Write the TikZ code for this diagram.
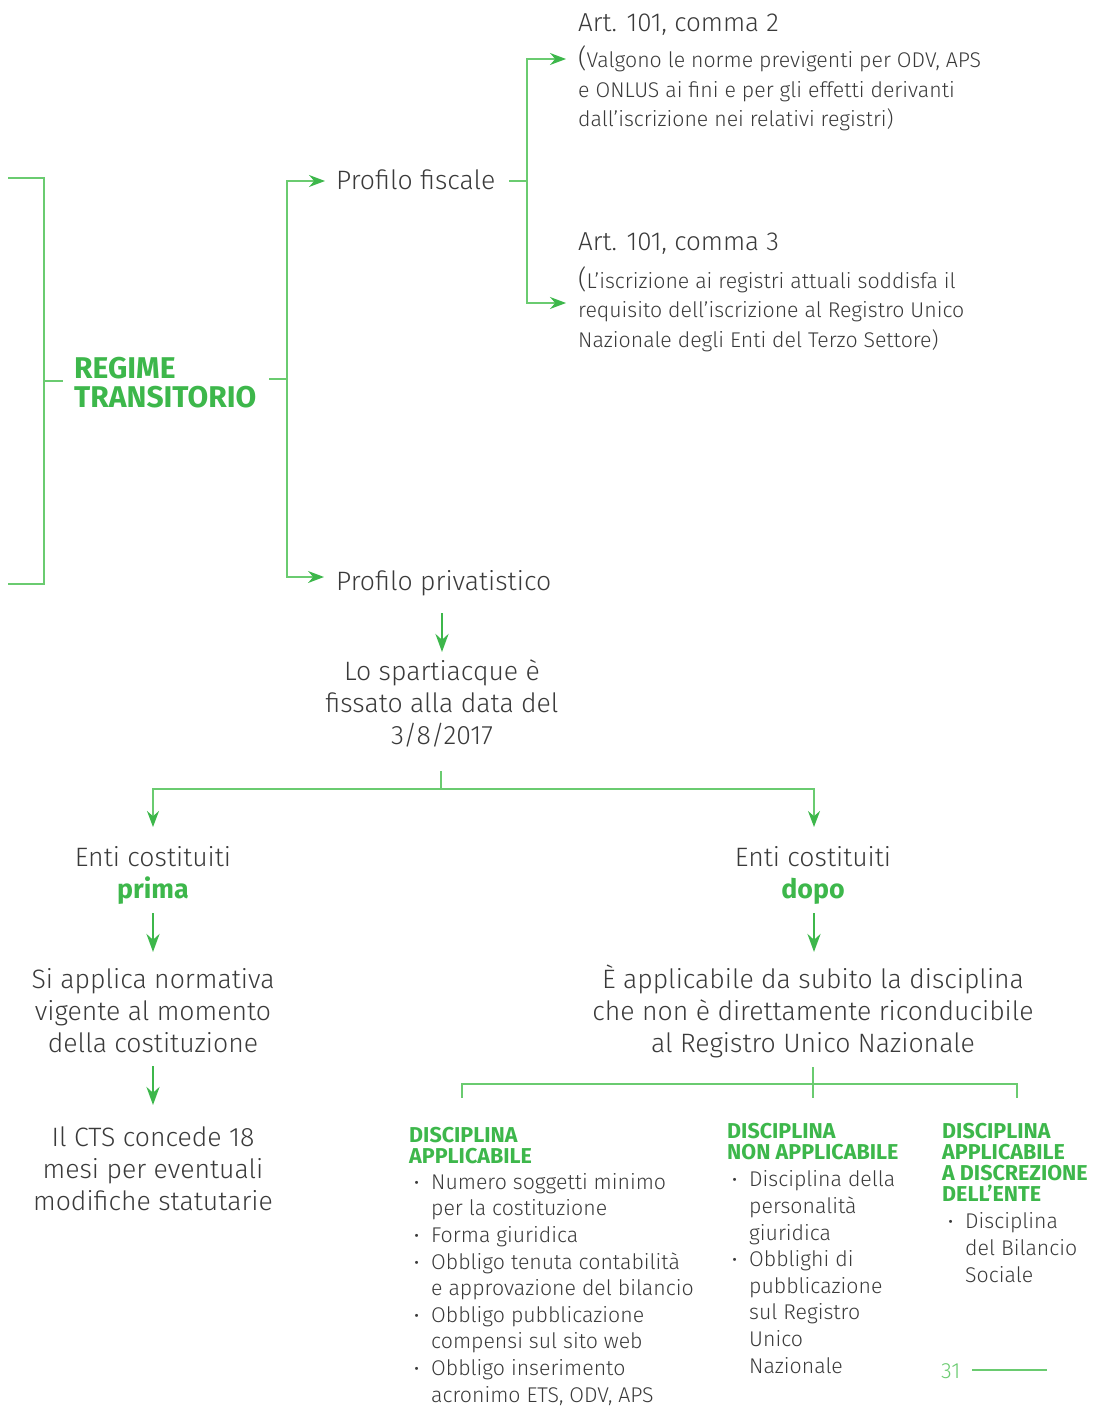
\documentclass[tikz,border=0pt]{standalone}
\usepackage{fontspec}
\setmainfont{Fira Sans Light}[BoldFont={Fira Sans Bold}]
\newfontfamily\regolare{Fira Sans}
\usetikzlibrary{arrows.meta}

\definecolor{verde}{HTML}{3DB74B}
\definecolor{verdel}{HTML}{6ACB70}
\definecolor{grigio}{HTML}{3A3A3A}

\newcommand{\punto}{\makebox[17pt][l]{{\regolare ·}}}
\newcommand{\rientro}{\makebox[17pt]{}}

\begin{document}
\begin{tikzpicture}[x=1pt,y=-1pt]
\useasboundingbox (0,0) rectangle (1100,1415);

\tikzstyle{linea}=[draw=verdel,line width=1.6pt]
\tikzstyle{frecciah}=[draw=verdel,line width=1.6pt,-{Stealth[length=16pt,width=12pt,color=verde]}]
\tikzstyle{frecciav}=[draw=verde,line width=2.8pt,-{Stealth[length=18pt,width=13pt]}]
\tikzstyle{testo}=[inner sep=0pt,text=grigio,font=\fontsize{26.6}{32}\selectfont,align=center]
\tikzstyle{titolo}=[inner sep=0pt,text=grigio,font=\fontsize{26}{29}\selectfont,align=left]
\tikzstyle{nota}=[inner sep=0pt,text=grigio,font=\fontsize{21.3}{29.5}\selectfont,align=left]
\tikzstyle{capo}=[inner sep=0pt,text=verde,font=\bfseries\fontsize{21.5}{20.7}\selectfont,align=left]
\tikzstyle{lista}=[inner sep=0pt,text=grigio,font=\fontsize{21.3}{26.6}\selectfont,align=left]

% testi (base = ultima riga)
\node[inner sep=0pt,text=verde,font=\bfseries\fontsize{30}{29}\selectfont,align=left,anchor=base west] (regime) at (74,407) {REGIME\\TRANSITORIO};
\node[testo,anchor=base west] (fiscale) at (336,190) {Profilo fiscale};
\node[testo,anchor=base west] (privato) at (336,590) {Profilo privatistico};
\node[titolo,anchor=base west] (art2) at (578,32) {Art. 101, comma 2};
\node[nota,anchor=base west] (nota2) at (578,127) {{\fontsize{26}{26}\selectfont(}Valgono le norme previgenti per ODV, APS\\e ONLUS ai fini e per gli effetti derivanti\\dall’iscrizione nei relativi registri)};
\node[titolo,anchor=base west] (art3) at (578,251) {Art. 101, comma 3};
\node[nota,anchor=base west] (nota3) at (578,347) {{\fontsize{26}{26}\selectfont(}L’iscrizione ai registri attuali soddisfa il\\requisito dell’iscrizione al Registro Unico\\Nazionale degli Enti del Terzo Settore)};
\node[testo,anchor=base] (spart) at (442,744) {Lo spartiacque è\\fissato alla data del\\3/8/2017};
\node[testo,anchor=base] (prima) at (153,898) {Enti costituiti\\{\bfseries\color{verde}\fontsize{26.8}{26.8}\selectfont prima}};
\node[testo,anchor=base] (dopo) at (813,898) {Enti costituiti\\{\bfseries\color{verde}\fontsize{26.8}{26.8}\selectfont dopo}};
\node[testo,anchor=base] (vigente) at (153,1052) {Si applica normativa\\vigente al momento\\della costituzione};
\node[testo,anchor=base] (subito) at (813,1052) {È applicabile da subito la disciplina\\che non è direttamente riconducibile\\al Registro Unico Nazionale};
\node[testo,anchor=base] (cts) at (153,1210) {Il CTS concede 18\\mesi per eventuali\\modifiche statutarie};

\node[capo,anchor=base west] (capo1) at (409,1163) {DISCIPLINA\\APPLICABILE};
\node[capo,anchor=base west] (capo2) at (727,1159) {DISCIPLINA\\NON APPLICABILE};
\node[capo,anchor=base west] (capo3) at (942,1201) {DISCIPLINA\\APPLICABILE\\A DISCREZIONE\\DELL’ENTE};

\node[lista,anchor=base west] (lista1) at (414,1402) {\punto Numero soggetti minimo\\\rientro per la costituzione\\\punto Forma giuridica\\\punto Obbligo tenuta contabilità\\\rientro e approvazione del bilancio\\\punto Obbligo pubblicazione\\\rientro compensi sul sito web\\\punto Obbligo inserimento\\\rientro acronimo ETS, ODV, APS};
\node[lista,anchor=base west] (lista2) at (732,1373) {\punto Disciplina della\\\rientro personalità\\\rientro giuridica\\\punto Obblighi di\\\rientro pubblicazione\\\rientro sul Registro\\\rientro Unico\\\rientro Nazionale};
\node[lista,anchor=base west] (lista3) at (948,1282) {\punto Disciplina\\\rientro del Bilancio\\\rientro Sociale};

\node[inner sep=0pt,text=verdel,font=\fontsize{22}{22}\selectfont,anchor=base west] (pag) at (941,1378) {31};

% punti di snodo
\coordinate (b1) at (8,178);
\coordinate (b2) at (44,178);
\coordinate (b3) at (44,584);
\coordinate (b4) at (8,584);
\coordinate (b5) at (63,381);
\coordinate (r1) at (269,379);
\coordinate (r2) at (287,379);
\coordinate (pf) at (325,181);
\coordinate (pp) at (324,577);
\coordinate (f1) at (509,181);
\coordinate (f2) at (527,181);
\coordinate (c2) at (566,59);
\coordinate (c3) at (566,303);
\coordinate (s1) at (442,613);
\coordinate (s2) at (442,652);
\coordinate (d1) at (441,771);
\coordinate (d2) at (441,789);
\coordinate (e1) at (153,827);
\coordinate (e2) at (814,827);
\coordinate (p1) at (153,913);
\coordinate (p2) at (153,952);
\coordinate (q1) at (814,913);
\coordinate (q2) at (814,952);
\coordinate (v1) at (153,1066);
\coordinate (v2) at (153,1105);
\coordinate (t1) at (813,1067);
\coordinate (t2) at (813,1084);
\coordinate (h1) at (462,1098);
\coordinate (h2) at (1017,1098);
\coordinate (n1) at (972,1370);
\coordinate (n2) at (1047,1370);

% collegamenti
\draw[linea] (b1) -- (b2) -- (b3) -- (b4);
\draw[linea] (b5 -| b2) -- (b5);
\draw[linea] (r1) -- (r2);
\draw[frecciah] (r2) |- (pf);
\draw[frecciah] (r2) |- (pp);
\draw[linea] (f1) -- (f2);
\draw[frecciah] (f2) |- (c2);
\draw[frecciah] (f2) |- (c3);
\draw[frecciav] (s1) -- (s2);
\draw[linea] (d1) -- (d2);
\draw[frecciah] (d2) -| (e1);
\draw[frecciah] (d2) -| (e2);
\draw[frecciav] (p1) -- (p2);
\draw[frecciav] (q1) -- (q2);
\draw[frecciav] (v1) -- (v2);
\draw[linea] (t1) -- (t2);
\draw[linea] (t2) -| (h1);
\draw[linea] (t2) -| (h2);
\draw[linea] (t2) -- ++(0,14);
\draw[linea] (n1) -- (n2);
\end{tikzpicture}
\end{document}
